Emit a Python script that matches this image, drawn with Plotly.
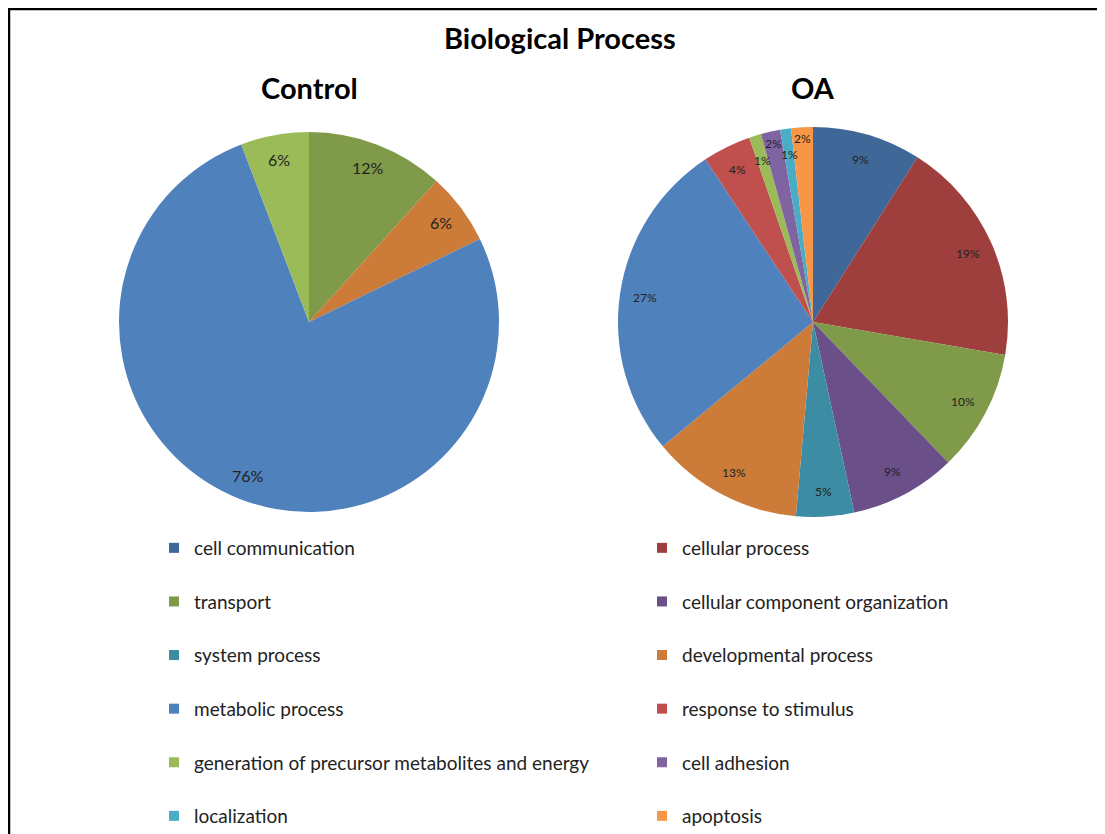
"""Biological Process GO distribution: Control vs OA pie charts."""

import math
import plotly.graph_objects as go

W, H = 1105, 834
FONT = "Lato"
PAGE_OFFSET = 8

# categories in legend / colour order
categories = [
    "cell communication", "cellular process", "transport",
    "cellular component organization", "system process", "developmental process",
    "metabolic process", "response to stimulus",
    "generation of precursor metabolites and energy", "cell adhesion",
    "localization", "apoptosis",
]
colors = [
    "#3F6797", "#9E3F3D", "#7F9A48", "#6A4F88", "#3C8DA3", "#CC7B38",
    "#4F81BD", "#C0504D", "#9BBB59", "#8064A2", "#4BACC6", "#F79646",
]

# percent shares (clockwise from 12 o'clock)
control_values = [0, 0, 11.7, 0, 0, 6.1, 76.4, 0, 5.8, 0, 0, 0]
oa_values = [9.0, 18.7, 10.1, 8.8, 4.8, 12.6, 26.7, 4.0, 1.0, 1.6, 0.9, 1.8]

left_col = [0, 2, 4, 6, 8, 10]
right_col = [1, 3, 5, 7, 9, 11]

# pie geometry in reference pixels (centre x, centre y, radius, label size)
PIES = [
    ("Control", control_values, 309, 322, 190, 16),
    ("OA", oa_values, 813, 322, 195, 12),
]


def px(x):
    return (x - PAGE_OFFSET) / W


def py(y):
    return 1 - (y - PAGE_OFFSET) / H


def domain(cx, cy, r):
    return dict(x=[px(cx - r), px(cx + r)], y=[py(cy + r), py(cy - r)])


fig = go.Figure()
annotations = []

for name, values, cx, cy, r, fs in PIES:
    fig.add_trace(go.Pie(
        labels=categories,
        values=values,
        sort=False,
        direction="clockwise",
        rotation=0,
        marker=dict(colors=colors, line=dict(width=0)),
        textinfo="none",
        showlegend=False,
        hoverinfo="label+percent",
        domain=domain(cx, cy, r),
    ))

    # Excel-style percent labels near the rim
    total = sum(values)
    cum = 0.0
    small_i = 0
    for v in values:
        if v <= 0:
            continue
        mid = (cum + v / 2) / total * 2 * math.pi
        cum += v
        pct = round(v / total * 100)
        if pct < 3:
            f = 0.87 if small_i % 2 == 0 else 0.94
            small_i += 1
        else:
            f = 0.87
        annotations.append(dict(
            text=f"{pct}%",
            x=px(cx + r * f * math.sin(mid)), y=py(cy - r * f * math.cos(mid)),
            xref="paper", yref="paper", showarrow=False,
            font=dict(size=fs, color="#222222", family=FONT),
            xanchor="center", yanchor="middle",
        ))

    annotations.append(dict(
        text=f"<b>{name}</b>", x=px(cx), y=py(88), xref="paper", yref="paper",
        showarrow=False, font=dict(size=29, color="black", family=FONT),
        xanchor="center", yanchor="middle",
    ))

# legend entries as dummy square markers, split into two columns
for col, legend_id in ((left_col, "legend"), (right_col, "legend2")):
    for i in col:
        fig.add_trace(go.Scatter(
            x=[None], y=[None], mode="markers", name=categories[i],
            marker=dict(symbol="square", size=10, color=colors[i]),
            legend=legend_id, legendgroup=categories[i], showlegend=True,
        ))

legend_style = dict(
    orientation="v", yanchor="top", y=py(529), xanchor="left",
    font=dict(size=19, color="#222222", family=FONT),
    tracegroupgap=25.9, bgcolor="rgba(0,0,0,0)", itemwidth=30,
)

fig.update_layout(
    width=W,
    height=H,
    margin=dict(l=0, r=0, t=0, b=0),
    paper_bgcolor="white",
    plot_bgcolor="white",
    font=dict(family=FONT),
    xaxis=dict(visible=False),
    yaxis=dict(visible=False),
    legend=dict(x=px(154), **legend_style),
    legend2=dict(x=px(642), **legend_style),
    annotations=annotations + [dict(
        text="<b>Biological Process</b>", x=px(560), y=py(37),
        xref="paper", yref="paper", showarrow=False,
        font=dict(size=29, color="black", family=FONT),
        xanchor="center", yanchor="middle",
    )],
    shapes=[dict(
        type="rect", xref="paper", yref="paper",
        x0=1 / W, x1=1.2, y0=-0.2, y1=1 - 1 / H,
        line=dict(color="black", width=2.5),
    )],
)

fig.write_html("out.html")
